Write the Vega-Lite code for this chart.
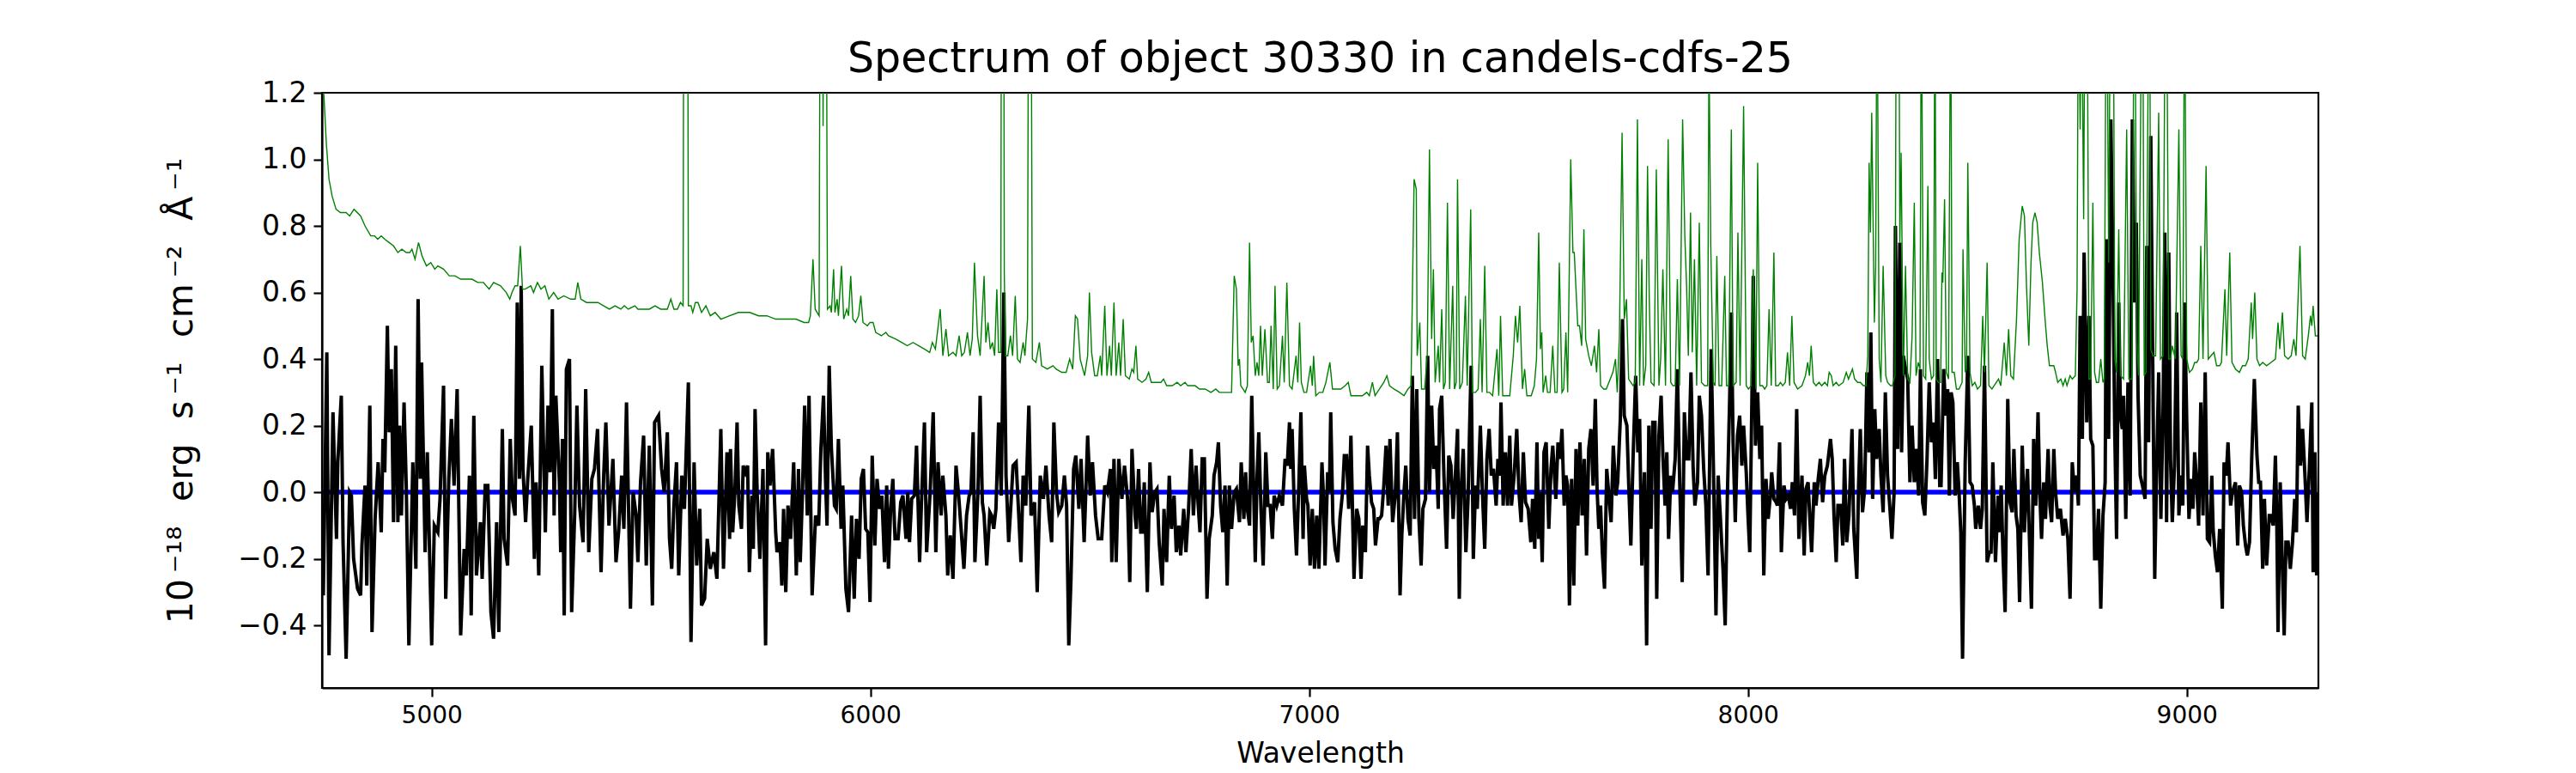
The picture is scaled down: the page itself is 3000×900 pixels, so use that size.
{
"$schema": "https://vega.github.io/schema/vega-lite/v6.json",
"width": 2325, "height": 693,
"autosize": {"type": "none"},
"padding": {"left": 375, "top": 108, "right": 300, "bottom": 99},
"background": "white",
"title": {"text": "Spectrum of object 30330 in candels-cdfs-25", "font": "DejaVu Sans", "fontSize": 49, "fontWeight": "normal", "color": "black", "anchor": "middle", "frame": "group", "baseline": "alphabetic", "offset": 8, "dy": 49},
"config": {"view": {"stroke": "black", "strokeWidth": 2.2}, "font": "DejaVu Sans"},
"datasets": {
"model": [{"wave": 4752, "model": 0}, {"wave": 9292, "model": 0}],
"flux": [
{"wave":4753,"flux":-0.31},{"wave":4761,"flux":0.42},{"wave":4766,"flux":-0.49},{"wave":4775,"flux":0.24},{"wave":4783,"flux":-0.14},{"wave":4786,"flux":0.09},{"wave":4794,"flux":0.29},{"wave":4798,"flux":-0.15},{"wave":4805,"flux":-0.50},{"wave":4813,"flux":0.00},{"wave":4817,"flux":-0.01},{"wave":4822,"flux":-0.20},{"wave":4831,"flux":-0.29},{"wave":4838,"flux":-0.31},{"wave":4841,"flux":-0.16},{"wave":4848,"flux":0.02},{"wave":4852,"flux":-0.28},{"wave":4859,"flux":0.26},{"wave":4864,"flux":-0.42},{"wave":4871,"flux":-0.08},{"wave":4878,"flux":0.09},{"wave":4885,"flux":-0.12},{"wave":4889,"flux":0.16},{"wave":4893,"flux":0.06},{"wave":4899,"flux":0.50},{"wave":4903,"flux":0.18},{"wave":4908,"flux":0.37},{"wave":4913,"flux":-0.09},{"wave":4918,"flux":0.44},{"wave":4923,"flux":-0.09},{"wave":4927,"flux":0.20},{"wave":4931,"flux":-0.07},{"wave":4937,"flux":0.27},{"wave":4942,"flux":0.02},{"wave":4948,"flux":-0.46},{"wave":4957,"flux":0.09},{"wave":4964,"flux":-0.23},{"wave":4969,"flux":0.58},{"wave":4974,"flux":0.04},{"wave":4977,"flux":0.39},{"wave":4985,"flux":-0.18},{"wave":4990,"flux":0.12},{"wave":5000,"flux":-0.46},{"wave":5006,"flux":-0.10},{"wave":5014,"flux":-0.12},{"wave":5019,"flux":-0.02},{"wave":5027,"flux":0.32},{"wave":5032,"flux":-0.32},{"wave":5039,"flux":0.04},{"wave":5045,"flux":0.22},{"wave":5051,"flux":0.02},{"wave":5058,"flux":0.31},{"wave":5066,"flux":-0.43},{"wave":5074,"flux":-0.17},{"wave":5079,"flux":-0.25},{"wave":5086,"flux":0.05},{"wave":5090,"flux":-0.37},{"wave":5096,"flux":0.23},{"wave":5102,"flux":-0.25},{"wave":5111,"flux":-0.09},{"wave":5115,"flux":-0.26},{"wave":5122,"flux":0.02},{"wave":5128,"flux":0.02},{"wave":5135,"flux":-0.36},{"wave":5141,"flux":-0.44},{"wave":5148,"flux":-0.09},{"wave":5153,"flux":-0.42},{"wave":5161,"flux":0.19},{"wave":5165,"flux":-0.14},{"wave":5173,"flux":-0.22},{"wave":5179,"flux":0.16},{"wave":5184,"flux":-0.02},{"wave":5190,"flux":-0.07},{"wave":5195,"flux":0.57},{"wave":5200,"flux":0.04},{"wave":5204,"flux":0.62},{"wave":5208,"flux":0.07},{"wave":5214,"flux":-0.09},{"wave":5219,"flux":0.04},{"wave":5227,"flux":0.20},{"wave":5234,"flux":-0.20},{"wave":5238,"flux":0.03},{"wave":5244,"flux":-0.25},{"wave":5251,"flux":0.38},{"wave":5259,"flux":-0.12},{"wave":5265,"flux":0.26},{"wave":5270,"flux":0.06},{"wave":5275,"flux":0.55},{"wave":5279,"flux":-0.07},{"wave":5283,"flux":0.29},{"wave":5291,"flux":0.03},{"wave":5294,"flux":-0.18},{"wave":5298,"flux":0.16},{"wave":5302,"flux":-0.37},{"wave":5307,"flux":0.37},{"wave":5314,"flux":0.40},{"wave":5319,"flux":-0.36},{"wave":5326,"flux":-0.06},{"wave":5331,"flux":0.26},{"wave":5337,"flux":-0.04},{"wave":5345,"flux":-0.15},{"wave":5351,"flux":0.31},{"wave":5358,"flux":-0.18},{"wave":5365,"flux":0.04},{"wave":5371,"flux":0.07},{"wave":5378,"flux":0.19},{"wave":5386,"flux":-0.24},{"wave":5392,"flux":0.05},{"wave":5397,"flux":0.21},{"wave":5404,"flux":-0.10},{"wave":5413,"flux":0.10},{"wave":5420,"flux":-0.21},{"wave":5426,"flux":-0.12},{"wave":5433,"flux":0.05},{"wave":5438,"flux":-0.11},{"wave":5444,"flux":0.27},{"wave":5453,"flux":-0.35},{"wave":5459,"flux":0.00},{"wave":5466,"flux":-0.07},{"wave":5470,"flux":-0.21},{"wave":5476,"flux":0.03},{"wave":5483,"flux":0.17},{"wave":5489,"flux":-0.22},{"wave":5496,"flux":0.14},{"wave":5503,"flux":-0.34},{"wave":5508,"flux":0.21},{"wave":5517,"flux":0.23},{"wave":5524,"flux":0.07},{"wave":5530,"flux":0.00},{"wave":5537,"flux":0.18},{"wave":5542,"flux":-0.14},{"wave":5547,"flux":-0.23},{"wave":5552,"flux":-0.04},{"wave":5558,"flux":0.09},{"wave":5563,"flux":-0.25},{"wave":5570,"flux":0.05},{"wave":5576,"flux":-0.05},{"wave":5585,"flux":0.33},{"wave":5591,"flux":-0.45},{"wave":5598,"flux":0.09},{"wave":5604,"flux":-0.22},{"wave":5611,"flux":-0.05},{"wave":5615,"flux":-0.34},{"wave":5622,"flux":-0.32},{"wave":5628,"flux":-0.14},{"wave":5635,"flux":-0.23},{"wave":5643,"flux":-0.18},{"wave":5650,"flux":-0.26},{"wave":5659,"flux":0.19},{"wave":5665,"flux":-0.23},{"wave":5673,"flux":0.12},{"wave":5679,"flux":-0.14},
{"wave":5681,"flux":0.13},{"wave":5686,"flux":-0.12},{"wave":5691,"flux":0.00},{"wave":5696,"flux":0.21},{"wave":5700,"flux":-0.04},{"wave":5706,"flux":-0.11},{"wave":5710,"flux":0.08},{"wave":5715,"flux":0.06},{"wave":5720,"flux":0.08},{"wave":5724,"flux":-0.24},{"wave":5730,"flux":-0.01},{"wave":5733,"flux":-0.17},{"wave":5737,"flux":0.25},{"wave":5742,"flux":-0.01},{"wave":5748,"flux":-0.20},{"wave":5755,"flux":0.07},{"wave":5761,"flux":-0.46},{"wave":5766,"flux":0.12},{"wave":5771,"flux":0.02},{"wave":5777,"flux":0.13},{"wave":5784,"flux":-0.12},{"wave":5787,"flux":-0.18},{"wave":5794,"flux":-0.15},{"wave":5798,"flux":-0.28},{"wave":5802,"flux":-0.05},{"wave":5807,"flux":-0.30},{"wave":5812,"flux":-0.04},{"wave":5818,"flux":-0.14},{"wave":5825,"flux":0.09},{"wave":5831,"flux":-0.25},{"wave":5836,"flux":0.07},{"wave":5840,"flux":-0.21},{"wave":5845,"flux":0.00},{"wave":5850,"flux":0.26},{"wave":5856,"flux":-0.07},{"wave":5860,"flux":0.29},{"wave":5867,"flux":-0.31},{"wave":5875,"flux":-0.07},{"wave":5882,"flux":-0.10},{"wave":5887,"flux":0.13},{"wave":5893,"flux":0.29},{"wave":5898,"flux":0.02},{"wave":5901,"flux":-0.10},{"wave":5906,"flux":0.38},{"wave":5911,"flux":0.13},{"wave":5918,"flux":-0.04},{"wave":5922,"flux":-0.05},{"wave":5927,"flux":0.16},{"wave":5933,"flux":-0.11},{"wave":5937,"flux":0.02},{"wave":5944,"flux":-0.29},{"wave":5950,"flux":-0.36},{"wave":5957,"flux":-0.07},{"wave":5963,"flux":-0.32},{"wave":5968,"flux":-0.08},{"wave":5974,"flux":-0.20},{"wave":5979,"flux":0.04},{"wave":5984,"flux":0.07},{"wave":5989,"flux":-0.11},{"wave":5994,"flux":-0.12},{"wave":5999,"flux":-0.33},{"wave":6004,"flux":0.11},{"wave":6010,"flux":-0.16},{"wave":6015,"flux":0.04},{"wave":6021,"flux":-0.05},{"wave":6026,"flux":-0.01},{"wave":6032,"flux":-0.21},{"wave":6037,"flux":0.02},{"wave":6041,"flux":-0.23},{"wave":6046,"flux":-0.05},{"wave":6051,"flux":0.04},{"wave":6056,"flux":-0.14},{"wave":6063,"flux":-0.14},{"wave":6069,"flux":-0.03},{"wave":6074,"flux":-0.01},{"wave":6081,"flux":-0.14},{"wave":6085,"flux":0.00},{"wave":6089,"flux":-0.15},{"wave":6094,"flux":-0.02},{"wave":6100,"flux":-0.01},{"wave":6105,"flux":0.14},{"wave":6112,"flux":-0.21},{"wave":6116,"flux":-0.04},{"wave":6123,"flux":0.21},{"wave":6128,"flux":-0.18},{"wave":6136,"flux":0.00},{"wave":6143,"flux":0.24},{"wave":6149,"flux":-0.18},{"wave":6154,"flux":0.09},{"wave":6161,"flux":-0.07},{"wave":6165,"flux":0.05},{"wave":6172,"flux":-0.07},{"wave":6176,"flux":-0.25},{"wave":6182,"flux":-0.13},{"wave":6188,"flux":-0.26},{"wave":6195,"flux":0.08},{"wave":6201,"flux":-0.01},{"wave":6206,"flux":-0.10},{"wave":6213,"flux":-0.23},{"wave":6219,"flux":-0.07},{"wave":6225,"flux":-0.01},{"wave":6229,"flux":0.00},{"wave":6234,"flux":0.18},{"wave":6238,"flux":-0.21},{"wave":6245,"flux":0.00},{"wave":6250,"flux":0.29},{"wave":6255,"flux":-0.03},{"wave":6259,"flux":-0.07},{"wave":6265,"flux":-0.22},{"wave":6272,"flux":-0.06},{"wave":6276,"flux":-0.07},{"wave":6281,"flux":-0.11},{"wave":6286,"flux":-0.05},{"wave":6292,"flux":0.21},{"wave":6298,"flux":-0.01},{"wave":6304,"flux":0.60},{"wave":6309,"flux":0.05},{"wave":6315,"flux":-0.15},{"wave":6320,"flux":-0.04},{"wave":6325,"flux":0.08},{"wave":6332,"flux":0.09},{"wave":6338,"flux":-0.07},{"wave":6343,"flux":-0.21},{"wave":6348,"flux":0.05},{"wave":6354,"flux":-0.04},{"wave":6361,"flux":0.26},{"wave":6366,"flux":-0.07},{"wave":6374,"flux":-0.03},{"wave":6380,"flux":-0.30},{"wave":6387,"flux":0.05},{"wave":6394,"flux":-0.02},{"wave":6400,"flux":0.08},{"wave":6407,"flux":-0.07},{"wave":6413,"flux":-0.15},{"wave":6418,"flux":0.21},{"wave":6424,"flux":0.00},{"wave":6429,"flux":-0.06},{"wave":6436,"flux":-0.04},{"wave":6442,"flux":0.05},{"wave":6447,"flux":-0.04},{"wave":6452,"flux":-0.46},{"wave":6457,"flux":-0.26},{"wave":6463,"flux":0.07},{"wave":6468,"flux":0.11},{"wave":6475,"flux":-0.05},{"wave":6480,"flux":0.10},{"wave":6487,"flux":-0.15},{"wave":6495,"flux":0.17},{"wave":6501,"flux":-0.01},{"wave":6506,"flux":0.09},{"wave":6513,"flux":-0.07},{"wave":6519,"flux":-0.14},{"wave":6527,"flux":-0.14},{"wave":6534,"flux":0.02},{"wave":6540,"flux":0.00},{"wave":6547,"flux":0.07},{"wave":6550,"flux":-0.21},{"wave":6555,"flux":0.10},{"wave":6560,"flux":-0.21},{"wave":6566,"flux":0.10},{"wave":6573,"flux":-0.02},{"wave":6579,"flux":0.08},{"wave":6586,"flux":-0.02},{"wave":6591,"flux":-0.27},{"wave":6596,"flux":0.13},
{"wave":6603,"flux":-0.07},{"wave":6606,"flux":-0.11},{"wave":6611,"flux":0.07},{"wave":6616,"flux":-0.12},{"wave":6620,"flux":-0.12},{"wave":6624,"flux":0.03},{"wave":6631,"flux":-0.30},{"wave":6637,"flux":0.09},{"wave":6642,"flux":-0.06},{"wave":6648,"flux":0.00},{"wave":6653,"flux":0.01},{"wave":6658,"flux":-0.15},{"wave":6665,"flux":-0.28},{"wave":6669,"flux":-0.05},{"wave":6675,"flux":-0.21},{"wave":6681,"flux":0.05},{"wave":6686,"flux":-0.11},{"wave":6692,"flux":-0.01},{"wave":6697,"flux":-0.18},{"wave":6703,"flux":-0.10},{"wave":6707,"flux":-0.19},{"wave":6714,"flux":-0.05},{"wave":6719,"flux":-0.18},{"wave":6725,"flux":-0.05},{"wave":6731,"flux":0.13},{"wave":6736,"flux":-0.07},{"wave":6742,"flux":0.08},{"wave":6747,"flux":-0.04},{"wave":6751,"flux":-0.12},{"wave":6756,"flux":0.10},{"wave":6761,"flux":0.10},{"wave":6767,"flux":-0.32},{"wave":6772,"flux":-0.14},{"wave":6779,"flux":-0.07},{"wave":6783,"flux":0.05},{"wave":6789,"flux":0.09},{"wave":6793,"flux":0.15},{"wave":6798,"flux":-0.04},{"wave":6803,"flux":-0.12},{"wave":6808,"flux":0.02},{"wave":6813,"flux":-0.28},{"wave":6818,"flux":0.02},{"wave":6823,"flux":-0.11},{"wave":6829,"flux":0.00},{"wave":6834,"flux":0.01},{"wave":6841,"flux":-0.09},{"wave":6845,"flux":0.09},{"wave":6851,"flux":-0.08},{"wave":6855,"flux":0.06},{"wave":6859,"flux":-0.05},{"wave":6864,"flux":-0.10},{"wave":6869,"flux":0.29},{"wave":6873,"flux":0.03},{"wave":6877,"flux":-0.21},{"wave":6881,"flux":0.04},{"wave":6885,"flux":0.18},{"wave":6890,"flux":-0.05},{"wave":6895,"flux":-0.22},{"wave":6901,"flux":0.12},{"wave":6906,"flux":-0.04},{"wave":6911,"flux":-0.04},{"wave":6916,"flux":-0.14},{"wave":6920,"flux":-0.01},{"wave":6926,"flux":-0.04},{"wave":6932,"flux":-0.01},{"wave":6939,"flux":-0.04},{"wave":6945,"flux":0.10},{"wave":6950,"flux":0.08},{"wave":6955,"flux":0.21},{"wave":6958,"flux":0.07},{"wave":6961,"flux":0.19},{"wave":6966,"flux":-0.05},{"wave":6971,"flux":-0.19},{"wave":6976,"flux":0.01},{"wave":6981,"flux":0.24},{"wave":6986,"flux":-0.14},{"wave":6989,"flux":0.08},{"wave":6994,"flux":-0.02},{"wave":6997,"flux":-0.04},{"wave":7002,"flux":-0.22},{"wave":7007,"flux":-0.05},{"wave":7012,"flux":-0.23},{"wave":7017,"flux":-0.07},{"wave":7022,"flux":-0.23},{"wave":7029,"flux":0.09},{"wave":7033,"flux":-0.03},{"wave":7036,"flux":-0.22},{"wave":7042,"flux":0.06},{"wave":7046,"flux":0.00},{"wave":7049,"flux":0.24},{"wave":7054,"flux":-0.09},{"wave":7059,"flux":-0.17},{"wave":7065,"flux":-0.21},{"wave":7070,"flux":-0.08},{"wave":7076,"flux":0.00},{"wave":7080,"flux":0.11},{"wave":7085,"flux":0.11},{"wave":7090,"flux":-0.05},{"wave":7095,"flux":0.17},{"wave":7102,"flux":-0.26},{"wave":7108,"flux":-0.05},{"wave":7113,"flux":-0.08},{"wave":7118,"flux":-0.26},{"wave":7122,"flux":-0.10},{"wave":7128,"flux":-0.18},{"wave":7133,"flux":0.14},{"wave":7137,"flux":0.05},{"wave":7142,"flux":-0.03},{"wave":7147,"flux":-0.05},{"wave":7151,"flux":-0.16},{"wave":7157,"flux":-0.08},{"wave":7160,"flux":-0.08},{"wave":7165,"flux":-0.07},{"wave":7170,"flux":0.02},{"wave":7175,"flux":0.14},{"wave":7180,"flux":-0.04},{"wave":7184,"flux":0.16},{"wave":7190,"flux":-0.09},{"wave":7196,"flux":-0.01},{"wave":7201,"flux":0.18},{"wave":7207,"flux":-0.31},{"wave":7211,"flux":-0.13},{"wave":7216,"flux":0.00},{"wave":7220,"flux":0.08},{"wave":7225,"flux":-0.08},{"wave":7230,"flux":-0.13},{"wave":7235,"flux":0.35},{"wave":7240,"flux":-0.08},{"wave":7245,"flux":0.31},{"wave":7250,"flux":-0.08},{"wave":7255,"flux":-0.22},{"wave":7259,"flux":-0.05},{"wave":7265,"flux":-0.02},{"wave":7270,"flux":0.41},{"wave":7274,"flux":0.00},{"wave":7279,"flux":0.26},{"wave":7284,"flux":0.07},{"wave":7289,"flux":0.14},{"wave":7294,"flux":-0.05},{"wave":7297,"flux":0.25},{"wave":7302,"flux":0.29},{"wave":7307,"flux":0.05},{"wave":7313,"flux":-0.17},{"wave":7318,"flux":0.11},{"wave":7323,"flux":0.08},{"wave":7328,"flux":-0.08},{"wave":7333,"flux":0.05},{"wave":7338,"flux":0.19},{"wave":7342,"flux":-0.32},{"wave":7346,"flux":0.00},{"wave":7351,"flux":0.13},{"wave":7357,"flux":-0.18},{"wave":7362,"flux":-0.02},{"wave":7366,"flux":0.22},{"wave":7369,"flux":0.38},{"wave":7374,"flux":-0.20},{"wave":7379,"flux":0.02},{"wave":7383,"flux":-0.05},{"wave":7390,"flux":0.20},{"wave":7395,"flux":-0.01},{"wave":7400,"flux":-0.17},{"wave":7405,"flux":0.10},{"wave":7410,"flux":0.19},{"wave":7415,"flux":0.05},{"wave":7420,"flux":0.07},{"wave":7426,"flux":-0.04},{"wave":7430,"flux":0.10},{"wave":7434,"flux":0.05},{"wave":7437,"flux":0.27},{"wave":7442,"flux":-0.04},{"wave":7447,"flux":0.12},{"wave":7452,"flux":-0.04},{"wave":7457,"flux":0.17},{"wave":7461,"flux":-0.04},{"wave":7467,"flux":0.05},{"wave":7473,"flux":0.19},{"wave":7478,"flux":0.00},{"wave":7483,"flux":-0.09},{"wave":7488,"flux":0.12},{"wave":7493,"flux":-0.03},{"wave":7499,"flux":-0.05},{"wave":7505,"flux":-0.15},{"wave":7509,"flux":-0.02},{"wave":7514,"flux":-0.17},{"wave":7519,"flux":0.15},
{"wave":7523,"flux":-0.14},{"wave":7526,"flux":0.00},{"wave":7531,"flux":-0.21},{"wave":7535,"flux":0.12},{"wave":7540,"flux":0.15},{"wave":7546,"flux":-0.11},{"wave":7551,"flux":0.07},{"wave":7555,"flux":0.14},{"wave":7562,"flux":-0.02},{"wave":7567,"flux":0.15},{"wave":7572,"flux":0.10},{"wave":7576,"flux":0.19},{"wave":7581,"flux":-0.04},{"wave":7585,"flux":0.05},{"wave":7589,"flux":0.02},{"wave":7593,"flux":-0.34},{"wave":7598,"flux":0.04},{"wave":7603,"flux":-0.28},{"wave":7608,"flux":0.13},{"wave":7612,"flux":-0.10},{"wave":7617,"flux":0.15},{"wave":7622,"flux":-0.07},{"wave":7627,"flux":0.10},{"wave":7632,"flux":-0.19},{"wave":7637,"flux":0.13},{"wave":7642,"flux":0.19},{"wave":7647,"flux":0.02},{"wave":7652,"flux":0.28},{"wave":7656,"flux":0.01},{"wave":7660,"flux":-0.11},{"wave":7664,"flux":-0.04},{"wave":7668,"flux":-0.18},{"wave":7673,"flux":-0.29},{"wave":7678,"flux":0.07},{"wave":7683,"flux":-0.01},{"wave":7688,"flux":-0.09},{"wave":7693,"flux":0.14},{"wave":7699,"flux":-0.01},{"wave":7703,"flux":0.03},{"wave":7709,"flux":0.22},{"wave":7714,"flux":0.52},{"wave":7718,"flux":0.23},{"wave":7724,"flux":0.20},{"wave":7728,"flux":0.03},{"wave":7733,"flux":-0.16},{"wave":7738,"flux":0.10},{"wave":7744,"flux":0.35},{"wave":7749,"flux":0.12},{"wave":7753,"flux":0.22},{"wave":7758,"flux":-0.22},{"wave":7764,"flux":0.06},{"wave":7769,"flux":-0.46},{"wave":7774,"flux":0.20},{"wave":7779,"flux":-0.11},{"wave":7783,"flux":0.21},{"wave":7788,"flux":0.21},{"wave":7792,"flux":-0.32},{"wave":7797,"flux":0.17},{"wave":7802,"flux":0.29},{"wave":7806,"flux":0.11},{"wave":7811,"flux":-0.04},{"wave":7815,"flux":0.12},{"wave":7819,"flux":-0.14},{"wave":7824,"flux":0.05},{"wave":7828,"flux":0.00},{"wave":7834,"flux":0.10},{"wave":7839,"flux":0.37},{"wave":7844,"flux":0.05},{"wave":7850,"flux":-0.27},{"wave":7855,"flux":0.24},{"wave":7860,"flux":0.10},{"wave":7865,"flux":0.10},{"wave":7870,"flux":0.36},{"wave":7875,"flux":0.07},{"wave":7879,"flux":-0.04},{"wave":7885,"flux":0.03},{"wave":7889,"flux":0.29},{"wave":7894,"flux":0.23},{"wave":7899,"flux":0.07},{"wave":7904,"flux":-0.04},{"wave":7909,"flux":-0.25},{"wave":7916,"flux":0.43},{"wave":7921,"flux":0.09},{"wave":7927,"flux":-0.37},{"wave":7932,"flux":0.05},{"wave":7938,"flux":-0.10},{"wave":7943,"flux":-0.23},{"wave":7948,"flux":-0.40},{"wave":7953,"flux":-0.01},{"wave":7958,"flux":0.27},{"wave":7962,"flux":0.54},{"wave":7966,"flux":0.15},{"wave":7971,"flux":-0.09},{"wave":7976,"flux":0.17},{"wave":7981,"flux":0.23},{"wave":7986,"flux":0.08},{"wave":7990,"flux":0.20},{"wave":7996,"flux":0.06},{"wave":8000,"flux":-0.07},{"wave":8004,"flux":-0.18},{"wave":8009,"flux":0.29},{"wave":8012,"flux":0.65},{"wave":8017,"flux":0.14},{"wave":8022,"flux":0.30},{"wave":8027,"flux":0.10},{"wave":8031,"flux":0.20},{"wave":8036,"flux":-0.25},{"wave":8041,"flux":0.04},{"wave":8046,"flux":-0.08},{"wave":8051,"flux":-0.01},{"wave":8054,"flux":0.06},{"wave":8059,"flux":-0.02},{"wave":8064,"flux":-0.03},{"wave":8067,"flux":-0.04},{"wave":8072,"flux":0.15},{"wave":8076,"flux":-0.18},{"wave":8082,"flux":0.02},{"wave":8087,"flux":-0.02},{"wave":8092,"flux":-0.01},{"wave":8097,"flux":-0.05},{"wave":8101,"flux":0.03},{"wave":8106,"flux":-0.07},{"wave":8111,"flux":0.25},{"wave":8116,"flux":-0.14},{"wave":8123,"flux":0.05},{"wave":8128,"flux":-0.19},{"wave":8132,"flux":0.01},{"wave":8137,"flux":0.03},{"wave":8141,"flux":-0.08},{"wave":8145,"flux":-0.18},{"wave":8151,"flux":0.03},{"wave":8155,"flux":-0.04},{"wave":8160,"flux":0.04},{"wave":8165,"flux":0.10},{"wave":8170,"flux":-0.03},{"wave":8175,"flux":0.05},{"wave":8181,"flux":0.08},{"wave":8188,"flux":0.16},{"wave":8192,"flux":0.10},{"wave":8196,"flux":-0.07},{"wave":8201,"flux":-0.21},{"wave":8205,"flux":-0.04},{"wave":8211,"flux":-0.04},{"wave":8216,"flux":-0.16},{"wave":8220,"flux":0.10},{"wave":8225,"flux":-0.15},{"wave":8230,"flux":-0.07},{"wave":8237,"flux":0.19},{"wave":8241,"flux":-0.11},{"wave":8248,"flux":-0.26},{"wave":8252,"flux":0.02},{"wave":8256,"flux":0.19},{"wave":8261,"flux":-0.06},{"wave":8266,"flux":0.01},{"wave":8271,"flux":0.36},{"wave":8276,"flux":0.12},{"wave":8280,"flux":0.48},{"wave":8284,"flux":-0.02},{"wave":8289,"flux":0.25},{"wave":8293,"flux":0.10},{"wave":8299,"flux":0.19},{"wave":8303,"flux":0.05},{"wave":8308,"flux":-0.06},{"wave":8313,"flux":0.30},{"wave":8318,"flux":0.05},{"wave":8323,"flux":-0.04},{"wave":8328,"flux":-0.14},{"wave":8333,"flux":0.00},{"wave":8336,"flux":0.80},{"wave":8341,"flux":0.13},{"wave":8346,"flux":0.75},{"wave":8350,"flux":0.12},{"wave":8354,"flux":0.41},{"wave":8359,"flux":0.37},{"wave":8364,"flux":0.34},{"wave":8369,"flux":0.03},{"wave":8374,"flux":0.20},{"wave":8379,"flux":0.03},{"wave":8383,"flux":0.13},{"wave":8389,"flux":-0.01},{"wave":8393,"flux":0.37},{"wave":8398,"flux":-0.03},{"wave":8403,"flux":-0.07},{"wave":8408,"flux":0.10},{"wave":8413,"flux":0.33},{"wave":8418,"flux":0.15},{"wave":8423,"flux":0.21},{"wave":8427,"flux":0.04},{"wave":8432,"flux":0.40},{"wave":8437,"flux":0.02},
{"wave":8440,"flux":0.02},{"wave":8446,"flux":0.37},{"wave":8451,"flux":0.23},{"wave":8455,"flux":0.31},{"wave":8459,"flux":-0.01},{"wave":8463,"flux":0.30},{"wave":8467,"flux":0.27},{"wave":8472,"flux":-0.01},{"wave":8477,"flux":0.09},{"wave":8481,"flux":0.00},{"wave":8485,"flux":-0.12},{"wave":8489,"flux":-0.50},{"wave":8495,"flux":0.09},{"wave":8501,"flux":0.41},{"wave":8506,"flux":0.03},{"wave":8511,"flux":0.02},{"wave":8516,"flux":-0.04},{"wave":8519,"flux":-0.11},{"wave":8525,"flux":-0.04},{"wave":8530,"flux":-0.11},{"wave":8534,"flux":-0.05},{"wave":8539,"flux":0.38},{"wave":8545,"flux":-0.21},{"wave":8550,"flux":-0.18},{"wave":8554,"flux":-0.18},{"wave":8558,"flux":0.09},{"wave":8564,"flux":-0.21},{"wave":8570,"flux":-0.01},{"wave":8573,"flux":-0.12},{"wave":8577,"flux":0.02},{"wave":8581,"flux":-0.18},{"wave":8586,"flux":-0.36},{"wave":8592,"flux":0.28},{"wave":8597,"flux":-0.03},{"wave":8602,"flux":-0.06},{"wave":8606,"flux":0.13},{"wave":8611,"flux":-0.07},{"wave":8615,"flux":-0.11},{"wave":8619,"flux":-0.33},{"wave":8625,"flux":0.14},{"wave":8630,"flux":-0.12},{"wave":8633,"flux":-0.01},{"wave":8637,"flux":0.07},{"wave":8641,"flux":-0.12},{"wave":8646,"flux":-0.35},{"wave":8651,"flux":0.16},{"wave":8656,"flux":-0.04},{"wave":8661,"flux":0.24},{"wave":8665,"flux":0.00},{"wave":8669,"flux":-0.14},{"wave":8674,"flux":0.03},{"wave":8678,"flux":-0.08},{"wave":8684,"flux":0.13},{"wave":8688,"flux":-0.04},{"wave":8692,"flux":-0.09},{"wave":8697,"flux":0.13},{"wave":8701,"flux":0.00},{"wave":8706,"flux":-0.08},{"wave":8712,"flux":-0.05},{"wave":8718,"flux":-0.13},{"wave":8723,"flux":-0.08},{"wave":8729,"flux":-0.14},{"wave":8734,"flux":-0.32},{"wave":8739,"flux":0.09},{"wave":8744,"flux":0.00},{"wave":8749,"flux":0.05},{"wave":8753,"flux":-0.04},{"wave":8757,"flux":0.53},{"wave":8762,"flux":0.16},{"wave":8766,"flux":0.72},{"wave":8772,"flux":0.21},{"wave":8777,"flux":0.53},{"wave":8781,"flux":0.16},{"wave":8786,"flux":0.14},{"wave":8790,"flux":-0.20},{"wave":8794,"flux":-0.20},{"wave":8799,"flux":-0.05},{"wave":8804,"flux":-0.35},{"wave":8809,"flux":-0.07},{"wave":8814,"flux":0.03},{"wave":8817,"flux":0.76},{"wave":8822,"flux":0.16},{"wave":8827,"flux":1.12},{"wave":8832,"flux":0.64},{"wave":8836,"flux":0.17},{"wave":8840,"flux":-0.14},{"wave":8845,"flux":0.57},{"wave":8849,"flux":0.23},{"wave":8853,"flux":0.19},{"wave":8856,"flux":0.29},{"wave":8861,"flux":-0.08},{"wave":8866,"flux":0.33},{"wave":8871,"flux":-0.01},{"wave":8876,"flux":1.12},{"wave":8881,"flux":0.57},{"wave":8885,"flux":0.81},{"wave":8889,"flux":0.29},{"wave":8894,"flux":0.05},{"wave":8899,"flux":0.02},{"wave":8905,"flux":-0.02},{"wave":8909,"flux":0.74},{"wave":8913,"flux":0.15},{"wave":8918,"flux":1.07},{"wave":8922,"flux":0.45},{"wave":8927,"flux":-0.26},{"wave":8931,"flux":0.05},{"wave":8936,"flux":0.36},{"wave":8941,"flux":-0.08},{"wave":8946,"flux":0.25},{"wave":8950,"flux":0.78},{"wave":8954,"flux":-0.09},{"wave":8959,"flux":0.72},{"wave":8963,"flux":0.10},{"wave":8967,"flux":-0.09},{"wave":8972,"flux":0.08},{"wave":8977,"flux":0.54},{"wave":8982,"flux":-0.07},{"wave":8987,"flux":0.05},{"wave":8991,"flux":-0.04},{"wave":8995,"flux":0.57},{"wave":9000,"flux":0.21},{"wave":9005,"flux":-0.08},{"wave":9010,"flux":0.04},{"wave":9014,"flux":-0.05},{"wave":9018,"flux":0.12},{"wave":9023,"flux":0.02},{"wave":9027,"flux":-0.10},{"wave":9032,"flux":0.27},{"wave":9037,"flux":-0.07},{"wave":9042,"flux":0.36},{"wave":9047,"flux":-0.14},{"wave":9052,"flux":-0.15},{"wave":9057,"flux":0.05},{"wave":9060,"flux":-0.11},{"wave":9065,"flux":-0.19},{"wave":9070,"flux":-0.24},{"wave":9075,"flux":-0.11},{"wave":9081,"flux":-0.35},{"wave":9085,"flux":0.09},{"wave":9090,"flux":0.05},{"wave":9094,"flux":0.15},{"wave":9100,"flux":-0.04},{"wave":9104,"flux":0.00},{"wave":9111,"flux":0.03},{"wave":9116,"flux":-0.16},{"wave":9120,"flux":0.02},{"wave":9125,"flux":0.00},{"wave":9129,"flux":-0.10},{"wave":9134,"flux":-0.16},{"wave":9138,"flux":-0.19},{"wave":9143,"flux":-0.15},{"wave":9148,"flux":0.10},{"wave":9154,"flux":0.34},{"wave":9160,"flux":0.11},{"wave":9164,"flux":0.03},{"wave":9168,"flux":0.03},{"wave":9173,"flux":-0.23},{"wave":9177,"flux":-0.02},{"wave":9182,"flux":-0.22},{"wave":9188,"flux":-0.07},{"wave":9192,"flux":-0.07},{"wave":9197,"flux":-0.10},{"wave":9202,"flux":0.11},{"wave":9205,"flux":-0.07},{"wave":9208,"flux":-0.42},{"wave":9213,"flux":0.03},{"wave":9217,"flux":-0.18},{"wave":9222,"flux":-0.43},{"wave":9226,"flux":-0.15},{"wave":9231,"flux":-0.15},{"wave":9236,"flux":-0.23},{"wave":9241,"flux":-0.15},{"wave":9246,"flux":-0.02},{"wave":9250,"flux":-0.12},{"wave":9254,"flux":0.26},{"wave":9259,"flux":0.08},{"wave":9264,"flux":0.19},{"wave":9269,"flux":0.06},{"wave":9274,"flux":-0.09},{"wave":9279,"flux":0.06},{"wave":9285,"flux":0.27},{"wave":9288,"flux":-0.24},{"wave":9292,"flux":0.12},{"wave":9296,"flux":-0.25},{"wave":9300,"flux":0.00}
],
"sky": [
{"wave":4752,"error":1.35},{"wave":4754,"error":1.2},{"wave":4760,"error":1.045},{"wave":4766,"error":0.94},{"wave":4773,"error":0.89},{"wave":4782,"error":0.85},{"wave":4792,"error":0.84},{"wave":4805,"error":0.84},{"wave":4813,"error":0.83},{"wave":4823,"error":0.85},{"wave":4838,"error":0.83},{"wave":4848,"error":0.80},{"wave":4861,"error":0.77},{"wave":4870,"error":0.77},{"wave":4877,"error":0.76},{"wave":4885,"error":0.77},{"wave":4893,"error":0.76},{"wave":4903,"error":0.75},{"wave":4913,"error":0.74},{"wave":4923,"error":0.72},{"wave":4932,"error":0.73},{"wave":4942,"error":0.72},{"wave":4950,"error":0.72},{"wave":4955,"error":0.73},{"wave":4962,"error":0.70},{"wave":4970,"error":0.75},{"wave":4978,"error":0.71},{"wave":4988,"error":0.68},{"wave":4998,"error":0.69},{"wave":5007,"error":0.67},{"wave":5014,"error":0.68},{"wave":5027,"error":0.67},{"wave":5040,"error":0.65},{"wave":5053,"error":0.65},{"wave":5066,"error":0.64},{"wave":5079,"error":0.64},{"wave":5092,"error":0.64},{"wave":5105,"error":0.63},{"wave":5118,"error":0.63},{"wave":5131,"error":0.61},{"wave":5141,"error":0.63},{"wave":5157,"error":0.62},{"wave":5170,"error":0.60},{"wave":5178,"error":0.58},{"wave":5183,"error":0.60},{"wave":5190,"error":0.62},{"wave":5196,"error":0.62},{"wave":5202,"error":0.74},{"wave":5207,"error":0.61},{"wave":5213,"error":0.61},{"wave":5226,"error":0.62},{"wave":5232,"error":0.60},{"wave":5241,"error":0.63},{"wave":5249,"error":0.61},{"wave":5258,"error":0.62},{"wave":5267,"error":0.58},{"wave":5278,"error":0.60},{"wave":5288,"error":0.58},{"wave":5301,"error":0.59},{"wave":5317,"error":0.58},{"wave":5327,"error":0.58},{"wave":5333,"error":0.63},{"wave":5340,"error":0.58},{"wave":5353,"error":0.57},{"wave":5366,"error":0.57},{"wave":5379,"error":0.57},{"wave":5392,"error":0.56},{"wave":5405,"error":0.55},{"wave":5418,"error":0.56},{"wave":5431,"error":0.55},{"wave":5439,"error":0.56},{"wave":5448,"error":0.55},{"wave":5463,"error":0.56},{"wave":5470,"error":0.55},{"wave":5483,"error":0.55},{"wave":5496,"error":0.55},{"wave":5509,"error":0.56},{"wave":5522,"error":0.55},{"wave":5537,"error":0.55},{"wave":5545,"error":0.58},{"wave":5552,"error":0.55},{"wave":5560,"error":0.55},{"wave":5567,"error":0.57},{"wave":5573,"error":0.56},{"wave":5579,"error":5.0},{"wave":5585,"error":0.56},{"wave":5591,"error":0.56},{"wave":5595,"error":0.54},{"wave":5601,"error":0.57},{"wave":5607,"error":0.57},{"wave":5615,"error":0.54},{"wave":5625,"error":0.56},{"wave":5635,"error":0.53},{"wave":5646,"error":0.54},{"wave":5659,"error":0.52},{"wave":5679,"error":0.53},
{"wave":5699,"error":0.54},{"wave":5725,"error":0.54},{"wave":5745,"error":0.53},{"wave":5764,"error":0.53},{"wave":5784,"error":0.52},{"wave":5794,"error":0.52},{"wave":5810,"error":0.52},{"wave":5830,"error":0.52},{"wave":5849,"error":0.51},{"wave":5859,"error":0.51},{"wave":5863,"error":0.53},{"wave":5869,"error":0.70},{"wave":5874,"error":0.55},{"wave":5883,"error":0.53},{"wave":5888,"error":3.0},{"wave":5892,"error":1.1},{"wave":5896,"error":3.0},{"wave":5902,"error":0.55},{"wave":5908,"error":0.56},{"wave":5911,"error":0.54},{"wave":5916,"error":0.67},{"wave":5919,"error":0.54},{"wave":5924,"error":0.58},{"wave":5927,"error":0.53},{"wave":5934,"error":0.68},{"wave":5939,"error":0.52},{"wave":5946,"error":0.55},{"wave":5950,"error":0.53},{"wave":5955,"error":0.65},{"wave":5960,"error":0.52},{"wave":5966,"error":0.51},{"wave":5973,"error":0.53},{"wave":5978,"error":0.59},{"wave":5983,"error":0.51},{"wave":5993,"error":0.50},{"wave":5999,"error":0.51},{"wave":6006,"error":0.51},{"wave":6012,"error":0.48},{"wave":6025,"error":0.47},{"wave":6035,"error":0.48},{"wave":6041,"error":0.47},{"wave":6058,"error":0.46},{"wave":6071,"error":0.45},{"wave":6084,"error":0.44},{"wave":6097,"error":0.45},{"wave":6110,"error":0.44},{"wave":6123,"error":0.43},{"wave":6135,"error":0.42},{"wave":6141,"error":0.45},{"wave":6148,"error":0.43},{"wave":6159,"error":0.55},{"wave":6165,"error":0.41},{"wave":6172,"error":0.49},{"wave":6178,"error":0.41},{"wave":6188,"error":0.42},{"wave":6195,"error":0.41},{"wave":6202,"error":0.47},{"wave":6208,"error":0.41},{"wave":6214,"error":0.42},{"wave":6221,"error":0.48},{"wave":6227,"error":0.41},{"wave":6232,"error":0.46},{"wave":6237,"error":0.69},{"wave":6244,"error":0.47},{"wave":6250,"error":0.41},{"wave":6259,"error":0.65},{"wave":6263,"error":0.45},{"wave":6268,"error":0.51},{"wave":6273,"error":0.43},{"wave":6278,"error":0.45},{"wave":6283,"error":0.41},{"wave":6288,"error":0.61},{"wave":6292,"error":0.42},{"wave":6297,"error":0.42},{"wave":6301,"error":4.0},{"wave":6305,"error":0.66},{"wave":6308,"error":0.41},{"wave":6313,"error":0.41},{"wave":6319,"error":0.47},{"wave":6324,"error":0.41},{"wave":6330,"error":0.59},{"wave":6335,"error":0.40},{"wave":6341,"error":0.39},{"wave":6348,"error":0.45},{"wave":6352,"error":0.41},{"wave":6358,"error":0.52},{"wave":6363,"error":3.0},{"wave":6369,"error":0.40},{"wave":6377,"error":0.39},{"wave":6385,"error":0.45},{"wave":6390,"error":0.38},{"wave":6403,"error":0.37},{"wave":6416,"error":0.38},{"wave":6423,"error":0.37},{"wave":6436,"error":0.36},{"wave":6446,"error":0.36},{"wave":6454,"error":0.40},{"wave":6461,"error":0.37},{"wave":6467,"error":0.53},{"wave":6472,"error":0.52},{"wave":6478,"error":0.40},{"wave":6488,"error":0.35},{"wave":6495,"error":0.41},{"wave":6499,"error":0.60},{"wave":6504,"error":0.42},{"wave":6511,"error":0.35},{"wave":6517,"error":0.35},{"wave":6524,"error":0.41},{"wave":6527,"error":0.35},{"wave":6534,"error":0.56},{"wave":6539,"error":0.35},{"wave":6545,"error":0.44},{"wave":6549,"error":0.35},{"wave":6555,"error":0.57},{"wave":6560,"error":0.35},{"wave":6566,"error":0.45},{"wave":6570,"error":0.35},{"wave":6576,"error":0.52},{"wave":6581,"error":0.35},
{"wave":6590,"error":0.34},{"wave":6596,"error":0.37},{"wave":6600,"error":0.36},{"wave":6605,"error":0.44},{"wave":6609,"error":0.34},{"wave":6619,"error":0.33},{"wave":6628,"error":0.34},{"wave":6634,"error":0.36},{"wave":6640,"error":0.33},{"wave":6652,"error":0.33},{"wave":6662,"error":0.33},{"wave":6668,"error":0.34},{"wave":6675,"error":0.32},{"wave":6688,"error":0.32},{"wave":6699,"error":0.33},{"wave":6707,"error":0.32},{"wave":6717,"error":0.33},{"wave":6723,"error":0.32},{"wave":6731,"error":0.32},{"wave":6740,"error":0.32},{"wave":6750,"error":0.31},{"wave":6763,"error":0.31},{"wave":6776,"error":0.30},{"wave":6787,"error":0.31},{"wave":6795,"error":0.30},{"wave":6808,"error":0.30},{"wave":6823,"error":0.30},{"wave":6829,"error":0.65},{"wave":6834,"error":0.61},{"wave":6838,"error":0.38},{"wave":6841,"error":0.40},{"wave":6844,"error":0.32},{"wave":6849,"error":0.31},{"wave":6854,"error":0.30},{"wave":6859,"error":0.32},{"wave":6864,"error":0.75},{"wave":6868,"error":0.45},{"wave":6872,"error":0.47},{"wave":6877,"error":0.35},{"wave":6881,"error":0.39},{"wave":6885,"error":0.35},{"wave":6889,"error":0.50},{"wave":6893,"error":0.35},{"wave":6899,"error":0.49},{"wave":6905,"error":0.33},{"wave":6909,"error":0.33},{"wave":6913,"error":0.50},{"wave":6918,"error":0.31},{"wave":6922,"error":0.62},{"wave":6927,"error":0.31},{"wave":6932,"error":0.32},{"wave":6939,"error":0.47},{"wave":6943,"error":0.33},{"wave":6949,"error":0.63},{"wave":6955,"error":0.32},{"wave":6961,"error":0.31},{"wave":6970,"error":0.41},{"wave":6974,"error":0.33},{"wave":6978,"error":0.51},{"wave":6982,"error":0.33},{"wave":6988,"error":0.30},{"wave":6994,"error":0.30},{"wave":7003,"error":0.38},{"wave":7007,"error":0.32},{"wave":7010,"error":0.41},{"wave":7015,"error":0.29},{"wave":7023,"error":0.30},{"wave":7031,"error":0.30},{"wave":7038,"error":0.33},{"wave":7047,"error":0.39},{"wave":7053,"error":0.31},{"wave":7062,"error":0.31},{"wave":7072,"error":0.31},{"wave":7082,"error":0.32},{"wave":7089,"error":0.33},{"wave":7095,"error":0.29},{"wave":7108,"error":0.29},{"wave":7121,"error":0.29},{"wave":7131,"error":0.30},{"wave":7137,"error":0.29},{"wave":7144,"error":0.33},{"wave":7150,"error":0.29},{"wave":7160,"error":0.31},{"wave":7170,"error":0.33},{"wave":7177,"error":0.35},{"wave":7183,"error":0.32},{"wave":7193,"error":0.31},{"wave":7206,"error":0.30},{"wave":7216,"error":0.29},{"wave":7225,"error":0.31},{"wave":7232,"error":0.32},{"wave":7239,"error":0.94},{"wave":7244,"error":0.91},{"wave":7246,"error":0.41},{"wave":7252,"error":0.51},{"wave":7256,"error":0.31},{"wave":7263,"error":0.31},{"wave":7269,"error":0.41},{"wave":7274,"error":1.03},{"wave":7279,"error":0.46},{"wave":7283,"error":0.67},{"wave":7287,"error":0.33},{"wave":7294,"error":0.44},{"wave":7297,"error":0.33},{"wave":7302,"error":0.55},{"wave":7306,"error":0.31},{"wave":7310,"error":0.33},{"wave":7315,"error":0.87},{"wave":7320,"error":0.31},{"wave":7327,"error":0.62},{"wave":7331,"error":0.31},{"wave":7335,"error":0.33},{"wave":7338,"error":0.94},{"wave":7343,"error":0.31},{"wave":7349,"error":0.33},{"wave":7356,"error":0.59},{"wave":7360,"error":0.32},{"wave":7368,"error":0.85},{"wave":7372,"error":0.30},{"wave":7379,"error":0.30},{"wave":7385,"error":0.31},{"wave":7390,"error":0.52},{"wave":7394,"error":0.30},{"wave":7400,"error":0.68},{"wave":7405,"error":0.30},{"wave":7411,"error":0.30},{"wave":7418,"error":0.29},{"wave":7428,"error":0.43},{"wave":7432,"error":0.29},{"wave":7436,"error":0.53},{"wave":7441,"error":0.29},{"wave":7447,"error":0.29},{"wave":7457,"error":0.29},{"wave":7465,"error":0.41},{"wave":7470,"error":0.53},{"wave":7475,"error":0.45},{"wave":7480,"error":0.56},{"wave":7486,"error":0.31},{"wave":7491,"error":0.37},{"wave":7496,"error":0.29},{"wave":7506,"error":0.29},
{"wave":7513,"error":0.32},{"wave":7518,"error":0.40},{"wave":7523,"error":0.78},{"wave":7527,"error":0.43},{"wave":7530,"error":0.48},{"wave":7533,"error":0.30},{"wave":7539,"error":0.35},{"wave":7543,"error":0.30},{"wave":7549,"error":0.30},{"wave":7555,"error":0.44},{"wave":7560,"error":0.30},{"wave":7565,"error":0.30},{"wave":7570,"error":0.69},{"wave":7576,"error":0.30},{"wave":7580,"error":0.31},{"wave":7585,"error":0.48},{"wave":7589,"error":0.30},{"wave":7596,"error":1.00},{"wave":7601,"error":0.72},{"wave":7604,"error":0.72},{"wave":7608,"error":0.61},{"wave":7612,"error":0.50},{"wave":7616,"error":0.50},{"wave":7621,"error":0.44},{"wave":7626,"error":0.79},{"wave":7630,"error":0.46},{"wave":7637,"error":0.41},{"wave":7643,"error":0.38},{"wave":7650,"error":0.44},{"wave":7655,"error":0.36},{"wave":7660,"error":0.49},{"wave":7664,"error":0.32},{"wave":7671,"error":0.31},{"wave":7677,"error":0.31},{"wave":7686,"error":0.34},{"wave":7692,"error":0.36},{"wave":7698,"error":0.40},{"wave":7702,"error":0.30},{"wave":7707,"error":0.47},{"wave":7713,"error":1.08},{"wave":7718,"error":0.52},{"wave":7723,"error":0.58},{"wave":7728,"error":0.34},{"wave":7733,"error":0.33},{"wave":7738,"error":0.32},{"wave":7743,"error":0.33},{"wave":7748,"error":1.12},{"wave":7753,"error":0.32},{"wave":7758,"error":0.70},{"wave":7762,"error":0.32},{"wave":7767,"error":0.38},{"wave":7771,"error":0.98},{"wave":7775,"error":0.58},{"wave":7779,"error":0.33},{"wave":7786,"error":0.32},{"wave":7791,"error":0.97},{"wave":7797,"error":0.32},{"wave":7801,"error":0.40},{"wave":7806,"error":0.67},{"wave":7812,"error":0.32},{"wave":7818,"error":1.06},{"wave":7824,"error":0.33},{"wave":7829,"error":0.32},{"wave":7834,"error":0.32},{"wave":7839,"error":0.64},{"wave":7844,"error":0.32},{"wave":7851,"error":1.12},{"wave":7856,"error":0.77},{"wave":7860,"error":0.62},{"wave":7864,"error":0.41},{"wave":7869,"error":0.84},{"wave":7873,"error":0.42},{"wave":7878,"error":0.70},{"wave":7883,"error":0.32},{"wave":7889,"error":0.81},{"wave":7894,"error":0.33},{"wave":7901,"error":0.32},{"wave":7908,"error":0.32},{"wave":7911,"error":1.35},{"wave":7915,"error":0.75},{"wave":7921,"error":0.33},{"wave":7925,"error":0.32},{"wave":7929,"error":0.71},{"wave":7934,"error":0.32},{"wave":7940,"error":0.32},{"wave":7947,"error":0.65},{"wave":7951,"error":0.32},{"wave":7956,"error":0.32},{"wave":7962,"error":1.09},{"wave":7966,"error":0.32},{"wave":7973,"error":0.33},{"wave":7977,"error":0.78},{"wave":7982,"error":0.32},{"wave":7990,"error":1.16},{"wave":7996,"error":0.32},{"wave":8001,"error":0.31},{"wave":8007,"error":0.32},{"wave":8012,"error":0.67},{"wave":8018,"error":0.31},{"wave":8022,"error":0.99},{"wave":8027,"error":0.32},{"wave":8033,"error":0.32},{"wave":8038,"error":0.31},{"wave":8043,"error":0.32},{"wave":8048,"error":0.55},{"wave":8053,"error":0.32},{"wave":8059,"error":0.72},{"wave":8063,"error":0.32},{"wave":8069,"error":0.32},{"wave":8074,"error":0.33},{"wave":8079,"error":0.32},{"wave":8085,"error":0.33},{"wave":8090,"error":0.42},{"wave":8095,"error":0.32},{"wave":8100,"error":0.53},{"wave":8105,"error":0.33},{"wave":8113,"error":0.31},{"wave":8123,"error":0.32},{"wave":8131,"error":0.35},{"wave":8136,"error":0.39},{"wave":8140,"error":0.35},{"wave":8144,"error":0.44},{"wave":8149,"error":0.33},{"wave":8155,"error":0.32},{"wave":8162,"error":0.33},{"wave":8168,"error":0.32},{"wave":8175,"error":0.33},{"wave":8181,"error":0.32},{"wave":8185,"error":0.36},{"wave":8190,"error":0.35},{"wave":8194,"error":0.32},{"wave":8201,"error":0.33},{"wave":8207,"error":0.32},{"wave":8217,"error":0.33},{"wave":8224,"error":0.36},{"wave":8229,"error":0.34},{"wave":8238,"error":0.37},{"wave":8243,"error":0.34},{"wave":8250,"error":0.33},{"wave":8256,"error":0.33},{"wave":8263,"error":0.32},{"wave":8269,"error":0.32},{"wave":8273,"error":0.41},{"wave":8276,"error":0.99},{"wave":8279,"error":0.78},{"wave":8282,"error":1.14},{"wave":8288,"error":0.51},{"wave":8291,"error":0.68},{"wave":8294,"error":1.6},{"wave":8299,"error":0.40},{"wave":8303,"error":0.33},{"wave":8308,"error":0.68},{"wave":8314,"error":0.35},{"wave":8318,"error":0.33},{"wave":8325,"error":0.32},{"wave":8329,"error":0.32},{"wave":8335,"error":0.35},{"wave":8339,"error":2.0},{"wave":8343,"error":2.0},{"wave":8346,"error":0.75},{"wave":8349,"error":1.02},{"wave":8354,"error":0.35},{"wave":8359,"error":0.68},{"wave":8364,"error":0.34},{"wave":8369,"error":0.33},{"wave":8374,"error":0.47},{"wave":8379,"error":0.87},{"wave":8383,"error":0.35},{"wave":8388,"error":0.39},{"wave":8392,"error":0.37},{"wave":8395,"error":1.6},{"wave":8400,"error":0.35},{"wave":8405,"error":0.34},{"wave":8410,"error":0.92},{"wave":8413,"error":0.40},{"wave":8418,"error":0.34},{"wave":8423,"error":0.35},{"wave":8426,"error":1.6},{"wave":8429,"error":0.34},{"wave":8434,"error":0.33},{"wave":8439,"error":0.33},
{"wave":8442,"error":0.66},{"wave":8444,"error":0.63},{"wave":8448,"error":0.88},{"wave":8452,"error":0.36},{"wave":8457,"error":0.34},{"wave":8462,"error":1.6},{"wave":8465,"error":0.36},{"wave":8470,"error":0.36},{"wave":8475,"error":0.31},{"wave":8481,"error":0.31},{"wave":8488,"error":0.33},{"wave":8490,"error":0.73},{"wave":8495,"error":0.36},{"wave":8498,"error":0.37},{"wave":8501,"error":0.99},{"wave":8506,"error":0.36},{"wave":8511,"error":0.32},{"wave":8517,"error":0.33},{"wave":8523,"error":0.31},{"wave":8530,"error":0.32},{"wave":8535,"error":0.53},{"wave":8539,"error":0.36},{"wave":8545,"error":0.69},{"wave":8549,"error":0.32},{"wave":8556,"error":0.31},{"wave":8566,"error":0.33},{"wave":8571,"error":0.34},{"wave":8576,"error":0.32},{"wave":8584,"error":0.45},{"wave":8589,"error":0.35},{"wave":8594,"error":0.49},{"wave":8599,"error":0.35},{"wave":8605,"error":0.34},{"wave":8612,"error":0.52},{"wave":8618,"error":0.76},{"wave":8625,"error":0.86},{"wave":8630,"error":0.83},{"wave":8635,"error":0.61},{"wave":8640,"error":0.44},{"wave":8645,"error":0.69},{"wave":8649,"error":0.81},{"wave":8654,"error":0.84},{"wave":8659,"error":0.81},{"wave":8664,"error":0.72},{"wave":8671,"error":0.63},{"wave":8677,"error":0.52},{"wave":8682,"error":0.44},{"wave":8687,"error":0.38},{"wave":8692,"error":0.38},{"wave":8697,"error":0.38},{"wave":8701,"error":0.36},{"wave":8706,"error":0.33},{"wave":8713,"error":0.34},{"wave":8718,"error":0.32},{"wave":8723,"error":0.34},{"wave":8727,"error":0.32},{"wave":8734,"error":0.35},{"wave":8739,"error":0.34},{"wave":8746,"error":0.35},{"wave":8750,"error":0.61},{"wave":8753,"error":1.6},{"wave":8757,"error":1.09},{"wave":8760,"error":1.6},{"wave":8765,"error":0.82},{"wave":8768,"error":1.6},{"wave":8773,"error":1.6},{"wave":8777,"error":0.34},{"wave":8781,"error":0.34},{"wave":8786,"error":0.87},{"wave":8790,"error":0.36},{"wave":8794,"error":0.33},{"wave":8799,"error":0.33},{"wave":8804,"error":0.40},{"wave":8809,"error":0.33},{"wave":8812,"error":0.34},{"wave":8817,"error":1.8},{"wave":8822,"error":0.69},{"wave":8827,"error":1.8},{"wave":8832,"error":1.8},{"wave":8836,"error":0.40},{"wave":8840,"error":0.36},{"wave":8845,"error":0.79},{"wave":8849,"error":0.35},{"wave":8856,"error":0.34},{"wave":8863,"error":1.09},{"wave":8868,"error":0.34},{"wave":8875,"error":0.34},{"wave":8881,"error":1.8},{"wave":8886,"error":0.45},{"wave":8890,"error":0.35},{"wave":8899,"error":1.8},{"wave":8903,"error":0.35},{"wave":8907,"error":0.36},{"wave":8915,"error":1.8},{"wave":8918,"error":0.43},{"wave":8923,"error":0.41},{"wave":8929,"error":0.41},{"wave":8936,"error":1.14},{"wave":8940,"error":0.40},{"wave":8946,"error":0.41},{"wave":8951,"error":1.6},{"wave":8954,"error":1.6},{"wave":8959,"error":0.40},{"wave":8963,"error":0.40},{"wave":8967,"error":0.44},{"wave":8974,"error":0.40},{"wave":8982,"error":1.09},{"wave":8987,"error":0.41},{"wave":8991,"error":0.40},{"wave":8995,"error":1.6},{"wave":9000,"error":0.40},{"wave":9006,"error":0.36},{"wave":9013,"error":0.37},{"wave":9018,"error":0.39},{"wave":9023,"error":0.39},{"wave":9027,"error":0.40},{"wave":9032,"error":0.74},{"wave":9037,"error":0.40},{"wave":9044,"error":0.98},{"wave":9049,"error":0.40},{"wave":9055,"error":0.41},{"wave":9062,"error":0.42},{"wave":9068,"error":0.38},{"wave":9075,"error":0.38},{"wave":9079,"error":0.39},{"wave":9087,"error":0.61},{"wave":9091,"error":0.41},{"wave":9098,"error":0.72},{"wave":9103,"error":0.39},{"wave":9111,"error":0.37},{"wave":9120,"error":0.36},{"wave":9127,"error":0.38},{"wave":9134,"error":0.38},{"wave":9140,"error":0.40},{"wave":9147,"error":0.57},{"wave":9150,"error":0.46},{"wave":9155,"error":0.60},{"wave":9160,"error":0.40},{"wave":9166,"error":0.38},{"wave":9173,"error":0.39},{"wave":9182,"error":0.38},{"wave":9192,"error":0.39},{"wave":9202,"error":0.40},{"wave":9208,"error":0.51},{"wave":9212,"error":0.43},{"wave":9218,"error":0.54},{"wave":9223,"error":0.41},{"wave":9231,"error":0.40},{"wave":9238,"error":0.41},{"wave":9244,"error":0.46},{"wave":9249,"error":0.41},{"wave":9258,"error":0.74},{"wave":9264,"error":0.41},{"wave":9270,"error":0.40},{"wave":9277,"error":0.47},{"wave":9282,"error":0.53},{"wave":9285,"error":0.50},{"wave":9288,"error":0.56},{"wave":9293,"error":0.47},{"wave":9298,"error":0.47}
]
},
"layer": [
{"data": {"name": "model"},
 "mark": {"type": "line", "color": "#0000ff", "strokeWidth": 5.5, "clip": true},
 "encoding": {
  "x": {"field": "wave", "type": "quantitative", "scale": {"domain": [4750, 9300], "nice": false, "zero": false},
   "axis": {"title": "Wavelength", "titleFont": "DejaVu Sans", "titleFontSize": 33, "titleFontWeight": "normal", "titleColor": "black", "titlePadding": 14,
    "values": [5000, 6000, 7000, 8000, 9000], "format": "d", "labelFont": "DejaVu Sans", "labelFontSize": 28, "labelColor": "black", "labelPadding": 8,
    "tickSize": 10, "tickWidth": 2.2, "tickColor": "black", "domainColor": "black", "domainWidth": 2.2, "grid": false, "labelFlush": false}},
  "y": {"field": "model", "type": "quantitative", "scale": {"domain": [-0.588, 1.2], "nice": false, "zero": false},
   "axis": {"title": "10\u2006⁻¹⁸\u2002\u2009erg\u2002\u2009s\u2006⁻¹\u2002\u2009cm\u2006⁻²\u2002\u2009Å\u2006⁻¹", "titleFont": "DejaVu Sans", "titleFontSize": 41, "titleFontWeight": "normal", "titleColor": "black", "titlePadding": 44,
    "values": [-0.4, -0.2, 0, 0.2, 0.4, 0.6, 0.8, 1.0, 1.2], "format": ".1f", "labelFont": "DejaVu Sans", "labelFontSize": 33, "labelColor": "black", "labelPadding": 8,
    "tickSize": 10, "tickWidth": 2.2, "tickColor": "black", "domainColor": "black", "domainWidth": 2.2, "grid": false, "labelFlush": false, "labelOverlap": false}}
 }},
{"data": {"name": "flux"},
 "mark": {"type": "line", "color": "#000000", "strokeWidth": 4, "clip": true},
 "encoding": {
  "x": {"field": "wave", "type": "quantitative"},
  "y": {"field": "flux", "type": "quantitative", "axis": {"title": "10\u2006⁻¹⁸\u2002\u2009erg\u2002\u2009s\u2006⁻¹\u2002\u2009cm\u2006⁻²\u2002\u2009Å\u2006⁻¹"}}
 }},
{"data": {"name": "sky"},
 "mark": {"type": "line", "color": "#008000", "strokeWidth": 1.4, "clip": true},
 "encoding": {
  "x": {"field": "wave", "type": "quantitative"},
  "y": {"field": "error", "type": "quantitative", "axis": {"title": "10\u2006⁻¹⁸\u2002\u2009erg\u2002\u2009s\u2006⁻¹\u2002\u2009cm\u2006⁻²\u2002\u2009Å\u2006⁻¹"}}
 }}
]
}
